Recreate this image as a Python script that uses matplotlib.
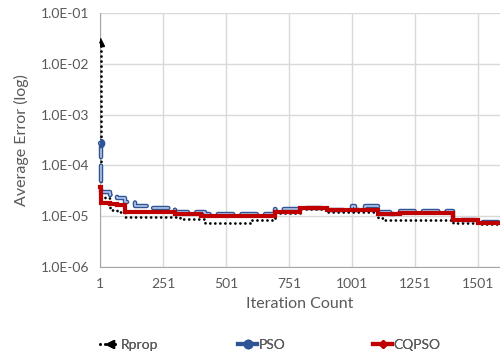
import matplotlib
matplotlib.use("Agg")
import matplotlib.pyplot as plt
from matplotlib.lines import Line2D
from matplotlib.ticker import FuncFormatter, FixedLocator

plt.rcParams['font.family'] = ['Lato', 'DejaVu Sans']
plt.rcParams['lines.scale_dashes'] = False

# step series (iteration where the value starts, value)
rprop_it = [1, 3, 21, 41, 70, 100, 318, 418, 604, 695, 795, 902, 1104, 1132, 1402, 1501, 1588]
rprop_val = [2.7e-2, 3.0e-5, 2.28e-5, 1.33e-5, 1.2e-5, 9.65e-6, 8.8e-6, 7.35e-6, 8.4e-6,
             1.16e-5, 1.39e-5, 1.21e-5, 9.2e-6, 8.4e-6, 7.35e-6, 7.0e-6, 7.0e-6]

pso_it = [1, 5, 13, 40, 68, 100, 140, 188, 299, 418, 695, 795, 902, 1001, 1013, 1053,
          1104, 1150, 1191, 1402, 1501, 1588]
pso_val = [2.76e-4, 3.0e-5, 2.99e-5, 2.6e-5, 2.28e-5, 1.9e-5, 1.6e-5, 1.45e-5, 1.21e-5,
           1.10e-5, 1.39e-5, 1.45e-5, 1.33e-5, 1.59e-5, 1.33e-5, 1.59e-5, 1.21e-5, 1.10e-5,
           1.27e-5, 8.6e-6, 7.7e-6, 7.7e-6]

cq_it = [1, 5, 40, 70, 100, 300, 402, 695, 795, 902, 1104, 1191, 1402, 1501, 1588]
cq_val = [3.76e-5, 1.82e-5, 1.72e-5, 1.66e-5, 1.21e-5, 1.10e-5, 9.9e-6, 1.21e-5, 1.45e-5,
          1.33e-5, 1.10e-5, 1.18e-5, 8.4e-6, 7.35e-6, 7.35e-6]

x_ticks = [1, 251, 501, 751, 1001, 1251, 1501]
y_ticks = [1e-6, 1e-5, 1e-4, 1e-3, 1e-2, 1e-1]

gray = '#595959'
blue = '#2F5597'
light = '#B4C7E7'
red = '#C00000'

fig = plt.figure(figsize=(5, 3.59), dpi=100)
ax = fig.add_axes([0.2, 0.2563, 0.8, 0.7075])

ax.plot(rprop_it, rprop_val, drawstyle='steps-post', color='black', lw=2,
        linestyle=(0, (0.01, 3.6)), dash_capstyle='round', zorder=3, clip_on=False)
ax.plot(rprop_it[:1], rprop_val[:1], marker='^', color='black', ms=6, ls='none', zorder=3)

ax.plot(pso_it, pso_val, drawstyle='steps-post', color=blue, lw=3.2,
        linestyle=(0, (11, 6)), dash_capstyle='round', zorder=4, clip_on=False)
ax.plot(pso_it, pso_val, drawstyle='steps-post', color=light, lw=1.2,
        linestyle=(0, (11, 6)), dash_capstyle='round', zorder=4, clip_on=False)
ax.plot(pso_it[:1], pso_val[:1], marker='o', color=blue, ms=6, ls='none', zorder=6)

ax.plot(cq_it, cq_val, drawstyle='steps-post', color=red, lw=3, zorder=5,
        solid_joinstyle='miter', clip_on=False)

ax.set_yscale('log')
ax.set_ylim(1e-6, 1e-1)
ax.set_xlim(1, 1588)
ax.yaxis.set_major_locator(FixedLocator(y_ticks))
ax.yaxis.set_minor_locator(FixedLocator([]))
ax.yaxis.set_major_formatter(FuncFormatter(lambda v, p: f"{v:.1E}"))
ax.set_xticks(x_ticks)
ax.set_xticklabels([str(t) for t in x_ticks])

ax.grid(True, color='#d9d9d9', lw=1)
ax.set_axisbelow(True)
for s in ['top', 'right']:
    ax.spines[s].set_visible(False)
ax.spines['left'].set_color('#a6a6a6')
ax.spines['bottom'].set_color('#a6a6a6')
ax.tick_params(length=0, labelsize=10, colors=gray, pad=8)

ax.set_xlabel('Iteration Count', fontsize=11.5, color=gray, labelpad=5)
ax.set_ylabel('Average Error (log)', fontsize=11.5, color=gray, labelpad=8)

handles = [
    Line2D([], [], color='black', lw=2, linestyle=(0, (0.01, 3.6)), dash_capstyle='round',
           marker='<', ms=6),
    Line2D([], [], color=blue, lw=3, marker='o', ms=6),
    Line2D([], [], color=red, lw=3, marker='D', ms=4),
]
labels = ['Rprop', 'PSO', 'CQPSO']
legend_x = [0.2, 0.476, 0.746]
for h, lab, lx in zip(handles, labels, legend_x):
    leg = fig.legend([h], [lab], loc='center left', bbox_to_anchor=(lx, 0.04),
                     frameon=False, fontsize=10, labelcolor=gray, handlelength=1.4,
                     handletextpad=0.1, borderpad=0, borderaxespad=0)
    fig.add_artist(leg)

fig.savefig('out.png', dpi=100)
